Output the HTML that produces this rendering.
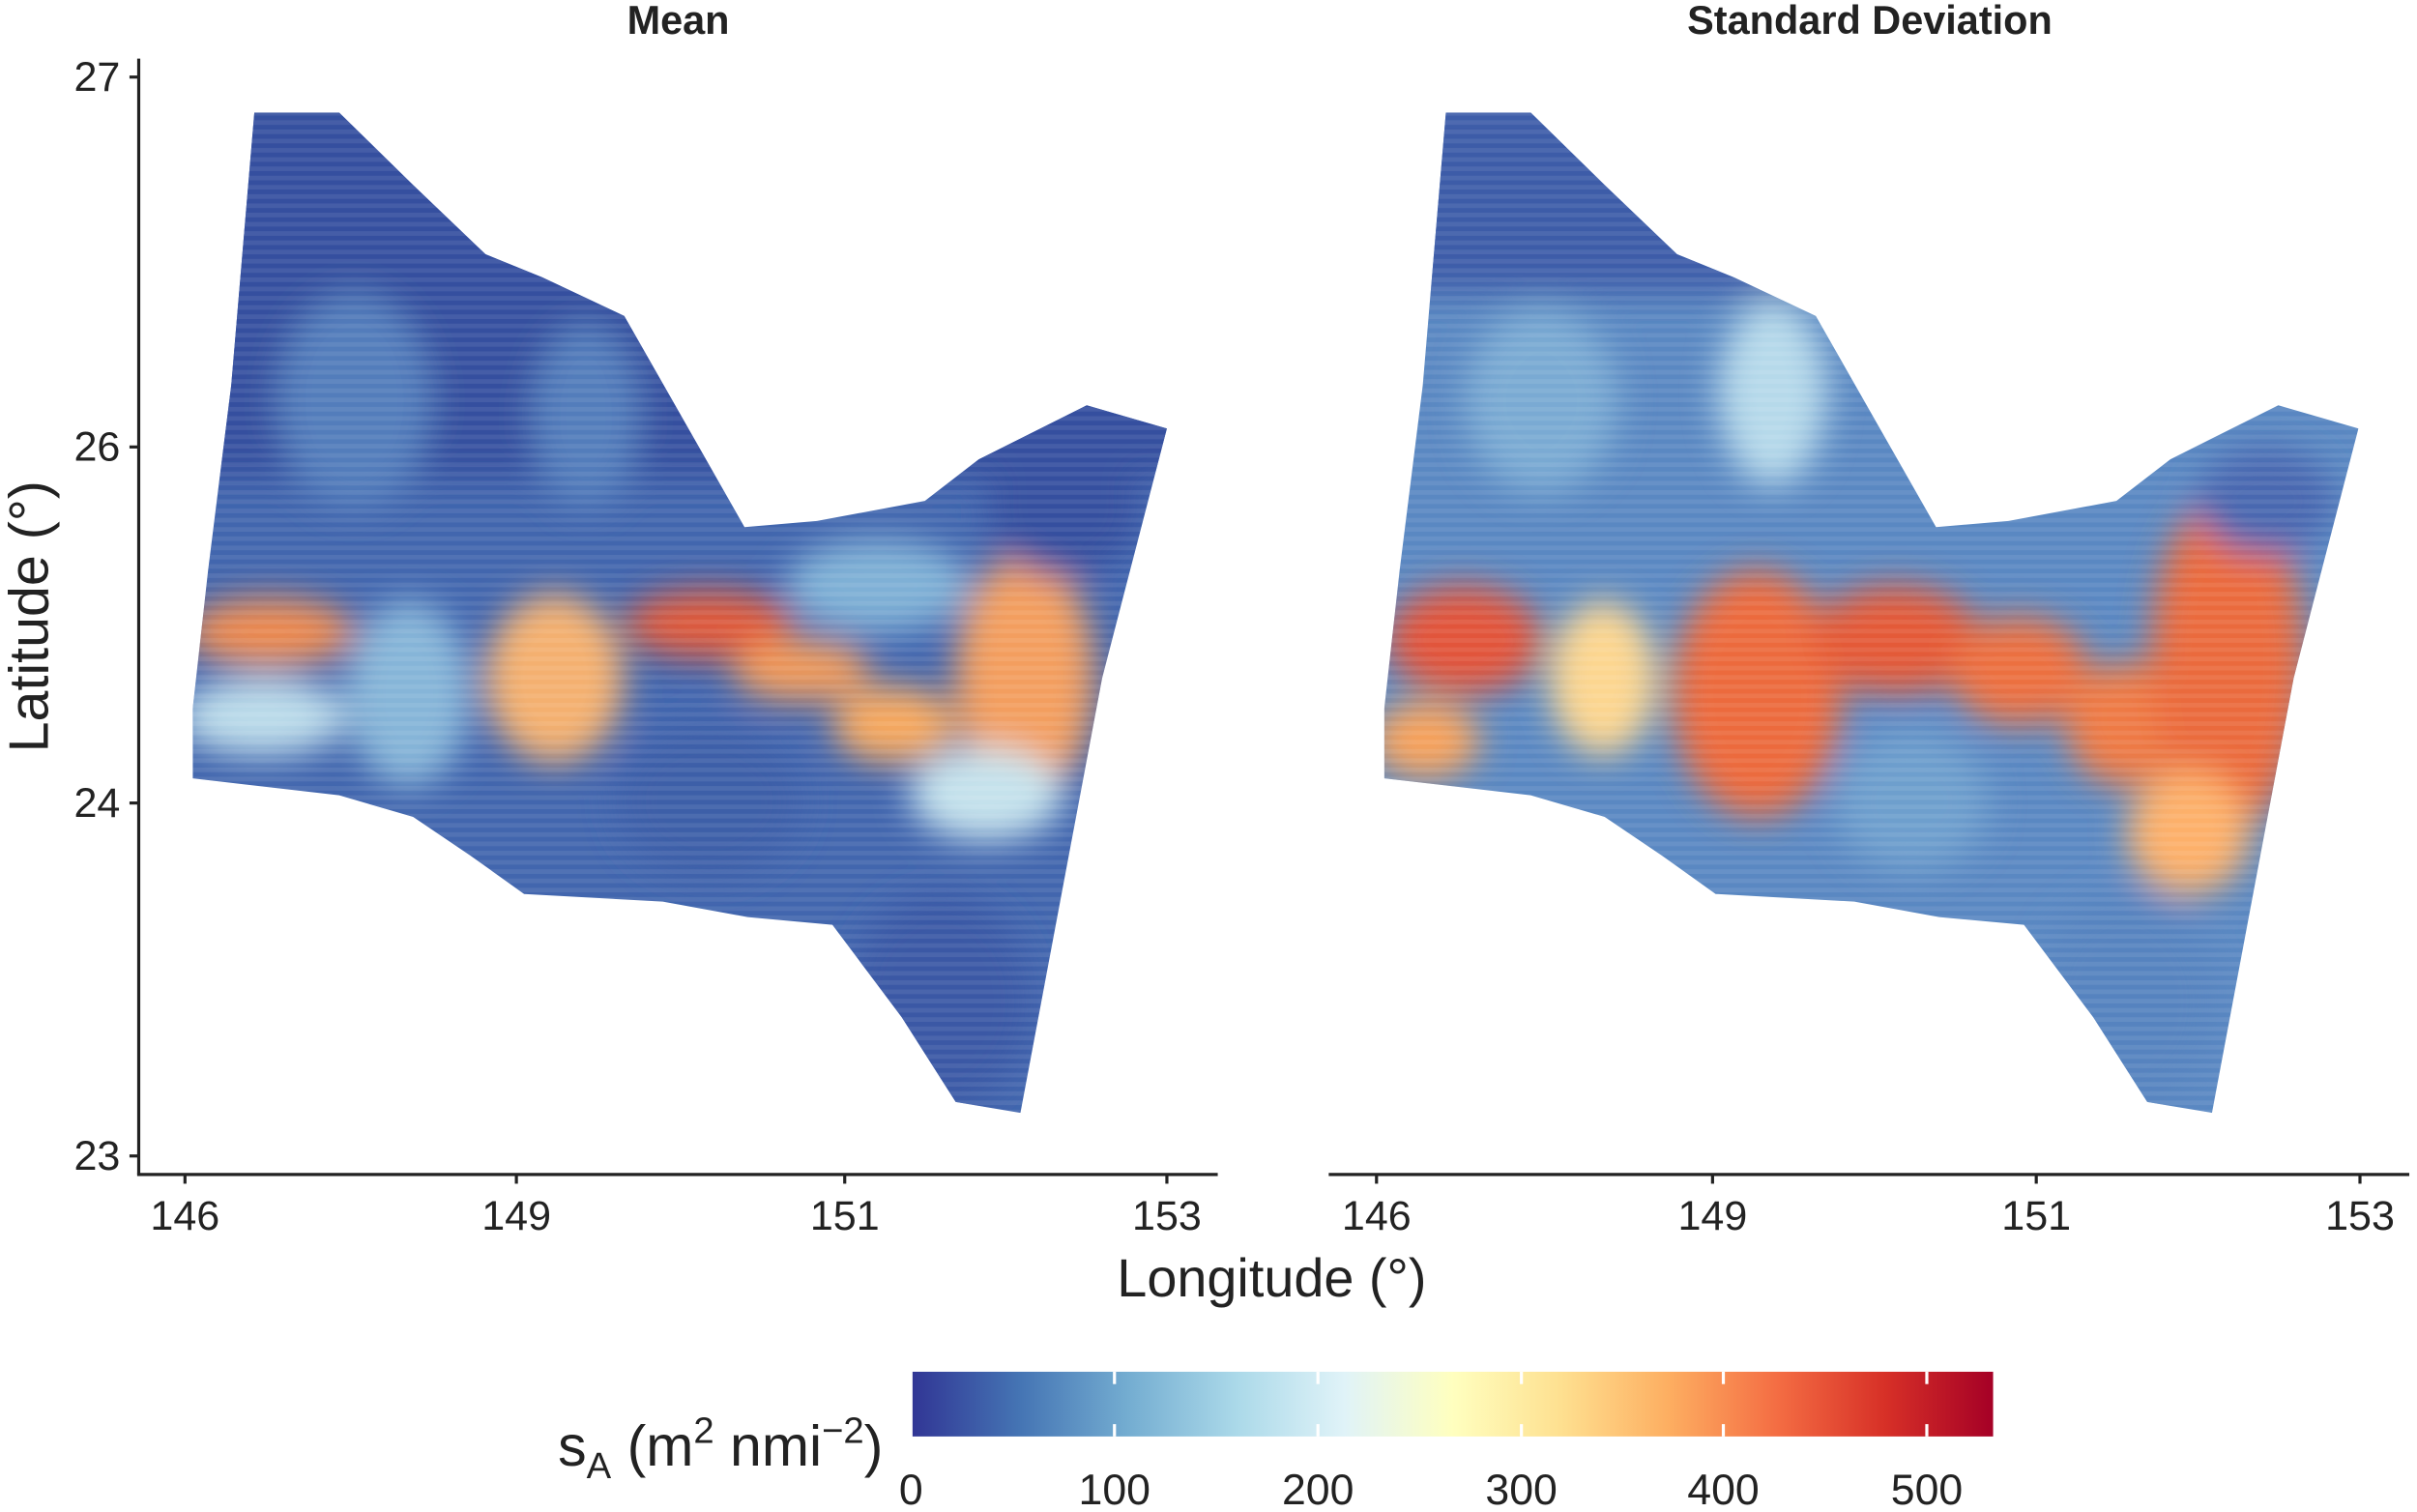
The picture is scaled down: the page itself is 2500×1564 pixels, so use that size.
<!DOCTYPE html>
<html><head><meta charset="utf-8"><style>
html,body{margin:0;padding:0;background:#fff;}
svg{display:block;}
text{font-family:"Liberation Sans",Arial,sans-serif;fill:#222;}
</style></head><body>
<svg width="2500" height="1564" viewBox="0 0 1568 981" preserveAspectRatio="none" xmlns="http://www.w3.org/2000/svg">
<defs>
<clipPath id="shapeL"><polygon points="165,73 220,73 268,120 315,165 352,180 405,205 483,342 530,338 600,325 635,298 705,263 757,278 715,440 662,722 620,715 585,660 540,600 485,595 430,585 340,580 305,555 268,530 220,516 125,505 125,460 135,370 150,250"/></clipPath>
<clipPath id="shapeR"><polygon points="938,73 993,73 1041,120 1088,165 1125,180 1178,205 1256,342 1303,338 1373,325 1408,298 1478,263 1530,278 1488,440 1435,722 1393,715 1358,660 1313,600 1258,595 1203,585 1113,580 1078,555 1041,530 993,516 898,505 898,460 908,370 923,250"/></clipPath>
<filter id="bl" x="-50%" y="-50%" width="200%" height="200%"><feGaussianBlur stdDeviation="11"/></filter>
<pattern id="stripes" width="8" height="6" patternUnits="userSpaceOnUse"><rect width="8" height="3" fill="#fff" opacity="0.08"/></pattern>
<linearGradient id="cb" x1="0" x2="1" y1="0" y2="0">
<stop offset="0" stop-color="#313695"/><stop offset="0.1" stop-color="#4575b4"/><stop offset="0.2" stop-color="#74add1"/><stop offset="0.3" stop-color="#abd9e9"/><stop offset="0.4" stop-color="#e0f3f8"/><stop offset="0.5" stop-color="#ffffbf"/><stop offset="0.6" stop-color="#fee090"/><stop offset="0.7" stop-color="#fdae61"/><stop offset="0.8" stop-color="#f46d43"/><stop offset="0.9" stop-color="#d73027"/><stop offset="1" stop-color="#a50026"/></linearGradient>
</defs>

<!-- Mean panel -->
<g clip-path="url(#shapeL)">
<rect x="100" y="60" width="680" height="680" fill="#4266ae"/>
<g filter="url(#bl)">
<rect x="100" y="60" width="680" height="250" fill="#34509f"/>
<ellipse cx="230" cy="260" rx="50" ry="70" fill="#527dbb"/>
<ellipse cx="380" cy="270" rx="35" ry="60" fill="#527dbb"/>
<ellipse cx="570" cy="380" rx="60" ry="30" fill="#7fb0d6"/>
<ellipse cx="175" cy="410" rx="55" ry="22" fill="#ee8a50"/>
<ellipse cx="170" cy="465" rx="55" ry="25" fill="#bcdcea"/>
<ellipse cx="265" cy="450" rx="40" ry="60" fill="#86b5d8"/>
<ellipse cx="360" cy="440" rx="45" ry="55" fill="#f4b070"/>
<ellipse cx="460" cy="405" rx="55" ry="22" fill="#e05a3a"/>
<ellipse cx="520" cy="435" rx="45" ry="20" fill="#f09a5a"/>
<ellipse cx="580" cy="470" rx="40" ry="25" fill="#f6a85e"/>
<ellipse cx="665" cy="440" rx="45" ry="80" fill="#f39e5e"/>
<ellipse cx="640" cy="515" rx="50" ry="30" fill="#c5e2ec"/>
<ellipse cx="460" cy="520" rx="60" ry="50" fill="#3e5fa8"/>
<ellipse cx="610" cy="650" rx="60" ry="70" fill="#3a58a5"/>
<ellipse cx="690" cy="330" rx="50" ry="45" fill="#34509f"/>
</g>
<rect x="100" y="60" width="680" height="680" fill="url(#stripes)"/>
</g>

<!-- SD panel -->
<g clip-path="url(#shapeR)">
<rect x="870" y="60" width="680" height="680" fill="#5a88c2"/>
<g filter="url(#bl)">
<rect x="870" y="60" width="680" height="130" fill="#3d5ca8"/>
<ellipse cx="1000" cy="260" rx="50" ry="60" fill="#7aaad3"/>
<ellipse cx="1150" cy="255" rx="35" ry="60" fill="#b6d9ea"/>
<ellipse cx="950" cy="415" rx="50" ry="35" fill="#e2553a"/>
<ellipse cx="925" cy="480" rx="35" ry="25" fill="#f7a25c"/>
<ellipse cx="1040" cy="440" rx="35" ry="50" fill="#fcd690"/>
<ellipse cx="1140" cy="450" rx="55" ry="80" fill="#ec6a3e"/>
<ellipse cx="1230" cy="415" rx="55" ry="35" fill="#e45a38"/>
<ellipse cx="1310" cy="435" rx="45" ry="35" fill="#ec7040"/>
<ellipse cx="1380" cy="470" rx="40" ry="40" fill="#ee7a45"/>
<ellipse cx="1445" cy="430" rx="50" ry="110" fill="#ea6a3e"/>
<ellipse cx="1420" cy="540" rx="40" ry="40" fill="#fdb06a"/>
<ellipse cx="1240" cy="520" rx="50" ry="45" fill="#6e9fcd"/>
<ellipse cx="1380" cy="650" rx="60" ry="70" fill="#5683bf"/>
<ellipse cx="1470" cy="325" rx="45" ry="35" fill="#4968b0"/>
</g>
<rect x="870" y="60" width="680" height="680" fill="url(#stripes)"/>
</g>

<!-- titles -->
<text x="440" y="22" font-size="26" font-weight="bold" text-anchor="middle">Mean</text>
<text x="1213" y="22" font-size="26" font-weight="bold" text-anchor="middle">Standard Deviation</text>

<!-- axes -->
<g stroke="#222" stroke-width="2" fill="none">
<line x1="90" y1="38" x2="90" y2="762"/>
<line x1="89" y1="762" x2="790" y2="762"/>
<line x1="862" y1="762" x2="1563" y2="762"/>
<line x1="84" y1="50" x2="90" y2="50"/><line x1="84" y1="290" x2="90" y2="290"/><line x1="84" y1="521" x2="90" y2="521"/><line x1="84" y1="750" x2="90" y2="750"/>
<line x1="120" y1="762" x2="120" y2="768"/><line x1="335" y1="762" x2="335" y2="768"/><line x1="548" y1="762" x2="548" y2="768"/><line x1="757" y1="762" x2="757" y2="768"/>
<line x1="893" y1="762" x2="893" y2="768"/><line x1="1111" y1="762" x2="1111" y2="768"/><line x1="1321" y1="762" x2="1321" y2="768"/><line x1="1531" y1="762" x2="1531" y2="768"/>
</g>
<g font-size="27" fill="#333" text-anchor="end">
<text x="78" y="59">27</text><text x="78" y="299">26</text><text x="78" y="530">24</text><text x="78" y="759">23</text>
</g>
<g font-size="27" text-anchor="middle">
<text x="120" y="798">146</text><text x="335" y="798">149</text><text x="548" y="798">151</text><text x="757" y="798">153</text>
<text x="893" y="798">146</text><text x="1111" y="798">149</text><text x="1321" y="798">151</text><text x="1531" y="798">153</text>
</g>
<text x="825" y="841" font-size="35" text-anchor="middle">Longitude (°)</text>
<text transform="translate(31,400) rotate(-90)" font-size="36" text-anchor="middle">Latitude (°)</text>

<!-- colorbar -->
<rect x="592" y="890" width="701" height="42" fill="url(#cb)"/>
<g stroke="#fff" stroke-width="2">
<line x1="723" y1="890" x2="723" y2="898"/><line x1="855" y1="890" x2="855" y2="898"/><line x1="987" y1="890" x2="987" y2="898"/><line x1="1118" y1="890" x2="1118" y2="898"/><line x1="1250" y1="890" x2="1250" y2="898"/>
<line x1="723" y1="924" x2="723" y2="932"/><line x1="855" y1="924" x2="855" y2="932"/><line x1="987" y1="924" x2="987" y2="932"/><line x1="1118" y1="924" x2="1118" y2="932"/><line x1="1250" y1="924" x2="1250" y2="932"/>
</g>
<g font-size="28" text-anchor="middle">
<text x="591" y="976">0</text><text x="723" y="976">100</text><text x="855" y="976">200</text><text x="987" y="976">300</text><text x="1118" y="976">400</text><text x="1250" y="976">500</text>
</g>
<text x="362" y="951" font-size="37">s<tspan font-size="24" dy="8">A</tspan><tspan dy="-8"> (m</tspan><tspan font-size="24" dy="-15">2</tspan><tspan dy="15"> nmi</tspan><tspan font-size="24" dy="-15">−2</tspan><tspan dy="15">)</tspan></text>
</svg>
</body></html>
